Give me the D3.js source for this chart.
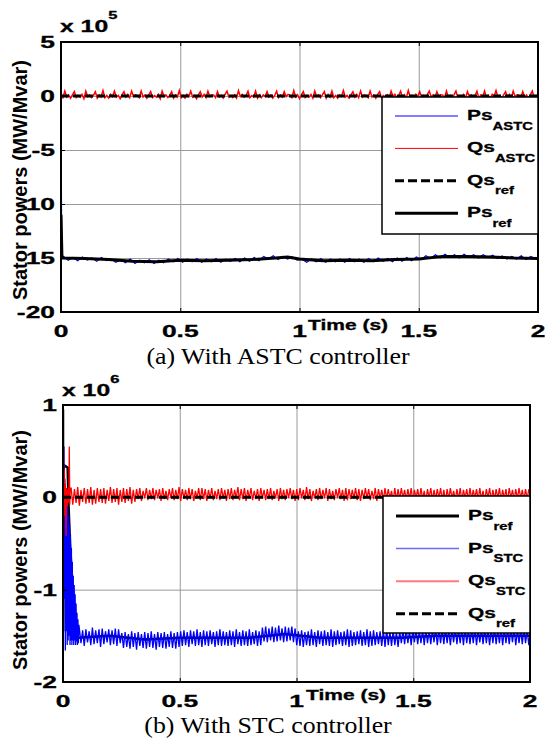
<!DOCTYPE html>
<html>
<head>
<meta charset="utf-8">
<script src="https://cdn.jsdelivr.net/npm/d3@7"></script>
<style>
  body { margin: 0; background: #fff; }
  svg { display: block; }
</style>
</head>
<body>
<svg id="fig" width="545" height="738"></svg>
<script>
// ---------- shared axis data ----------
const xTicks = [0, 0.5, 1, 1.5, 2];
const xTickLabels = ["0", "0.5", "1", "1.5", "2"];

// ---------- panel (a): ASTC controller, values in units of 1e5 ----------
const aYTicks = [5, 0, -5, -10, -15, -20];
const aYTickLabels = ["5", "0", "-5", "-10", "-15", "-20"];

// Qs_ASTC sampled every 0.008 s from t = 0
const aQsAstcStep = 0.008;
const aQsAstc = [
  0.05,-0.15,0.45,-0.1,0.1,-0.2,0.1,0.4,-0.15,0.05,
  -0.1,0.15,-0.25,0.45,-0.05,0.1,-0.15,0.05,0.4,-0.2,
  0.1,-0.1,0.5,-0.15,0.05,-0.2,0.15,-0.05,0.45,-0.1,
  0.05,-0.25,0.1,0.4,-0.1,0.15,-0.15,0.45,-0.05,0.1,
  0.05,-0.15,0.45,-0.1,0.1,-0.2,0.1,0.4,-0.15,0.05,
  -0.1,0.15,-0.25,0.45,-0.05,0.1,-0.15,0.05,0.4,-0.2,
  0.1,-0.1,0.5,-0.15,0.05,-0.2,0.15,-0.05,0.45,-0.1,
  0.05,-0.25,0.1,0.4,-0.1,0.15,-0.15,0.45,-0.05,0.1,
  0.1,-0.15,0.4,-0.1,0.05,-0.2,0.15,0.45,-0.1,0.05,
  -0.15,0.1,-0.2,0.5,-0.05,0.15,-0.1,0.05,0.45,-0.15,
  0.05,-0.1,0.45,-0.2,0.1,-0.15,0.1,-0.05,0.4,-0.1,
  0.1,-0.2,0.05,0.45,-0.15,0.1,-0.1,0.4,-0.05,0.15,
  0.05,-0.15,0.5,-0.1,0.1,-0.25,0.1,0.4,-0.15,0.05,
  -0.1,0.15,-0.2,0.45,-0.05,0.1,-0.15,0.1,0.4,-0.2,
  0.15,-0.1,0.45,-0.15,0.05,-0.2,0.1,-0.05,0.5,-0.1,
  0.05,-0.2,0.1,0.4,-0.1,0.15,-0.15,0.45,-0.1,0.1,
  0.05,-0.15,0.45,-0.1,0.1,-0.2,0.15,0.4,-0.15,0.05,
  -0.1,0.1,-0.25,0.45,-0.05,0.15,-0.15,0.05,0.45,-0.2,
  0.1,-0.15,0.5,-0.1,0.05,-0.2,0.15,-0.05,0.4,-0.1,
  0.05,-0.25,0.15,0.45,-0.1,0.1,-0.15,0.4,-0.05,0.1,
  0.1,-0.15,0.45,-0.1,0.05,-0.2,0.1,0.45,-0.15,0.05,
  -0.1,0.15,-0.2,0.4,-0.05,0.1,-0.15,0.05,0.45,-0.2,
  0.1,-0.1,0.45,-0.15,0.05,-0.2,0.15,-0.05,0.5,-0.1,
  0.05,-0.2,0.1,0.4,-0.1,0.15,-0.15,0.45,-0.05,0.1,
  0.05,-0.15,0.4,-0.1,0.1,-0.2,0.1,0.45,-0.15,0.05,
  0.1
];

// Ps_ASTC: start-up samples, then every 0.02 s from t = 0.01
const aPsAstcHead = [[0, 0.4], [0.003, -15.0]];
const aPsAstcStart = 0.01;
const aPsAstcStep = 0.02;
const aPsAstc = [
  -14.85,-15.2,-14.95,-15.25,-14.9,-15.2,-15.0,-15.3,-14.95,-15.25,
  -15.1,-15.4,-15.15,-15.45,-15.1,-15.5,-15.2,-15.45,-15.15,-15.5,
  -15.2,-15.45,-15.1,-15.35,-15.05,-15.4,-15.1,-15.35,-15.05,-15.4,
  -15.1,-15.35,-15.05,-15.4,-15.1,-15.3,-15.05,-15.35,-15.0,-15.3,
  -14.95,-15.25,-14.85,-15.1,-14.8,-15.15,-14.85,-15.1,-14.9,-15.2,
  -15.1,-15.4,-15.1,-15.35,-15.05,-15.4,-15.1,-15.35,-15.1,-15.4,
  -15.05,-15.35,-15.1,-15.4,-15.05,-15.35,-15.0,-15.3,-15.05,-15.35,
  -15.0,-15.3,-14.95,-15.25,-14.9,-15.15,-14.8,-15.05,-14.7,-15.0,
  -14.65,-14.95,-14.7,-15.0,-14.65,-14.95,-14.7,-15.0,-14.7,-14.95,
  -14.75,-15.05,-14.8,-15.1,-14.85,-15.1,-14.8,-15.15,-14.85,-15.1
];

// Ps_ref as [time, value] pairs
const aPsRef = [
  [0, -11], [0.004, -15.0], [0.1, -15.05], [0.2, -15.15], [0.3, -15.3],
  [0.4, -15.35], [0.5, -15.2], [0.6, -15.25], [0.7, -15.2], [0.8, -15.15],
  [0.9, -15.0], [0.95, -14.9], [1.0, -15.1], [1.1, -15.25], [1.2, -15.2],
  [1.3, -15.25], [1.4, -15.15], [1.5, -15.1], [1.6, -14.85], [1.7, -14.85],
  [1.8, -14.9], [1.9, -15.0], [2.0, -15.05]
];
const aQsRef = [[0, 0], [2, 0]];

// ---------- panel (b): STC controller, values in units of 1e6 ----------
const bYTicks = [1, 0, -1, -2];
const bYTickLabels = ["1", "0", "-1", "-2"];

// Ps_STC start-up transient every 0.002 s from t = 0
const bPsStcHeadStep = 0.002;
const bPsStcHead = [
  0.88,-0.5,0.55,-1.1,0.2,-1.66,0.1,-1.45,0.0,-1.6,
  -0.1,-1.55,-0.2,-1.5,-0.3,-1.6,-0.4,-1.55,-0.55,-1.6,
  -0.7,-1.55,-0.85,-1.6,-0.95,-1.55,-1.05,-1.6,-1.15,-1.56,
  -1.25,-1.6,-1.32,-1.58,-1.38
];
// Ps_STC steady part every 0.007 s from t = 0.07
const bPsStcStart = 0.07;
const bPsStcStep = 0.007;
const bPsStc = [
  -1.42,-1.58,-1.44,-1.61,-1.43,-1.57,-1.45,-1.60,-1.41,-1.59,
  -1.44,-1.58,-1.43,-1.62,-1.42,-1.59,-1.45,-1.57,-1.43,-1.60,
  -1.44,-1.59,-1.42,-1.61,-1.43,-1.58,-1.47,-1.63,-1.46,-1.62,
  -1.48,-1.64,-1.45,-1.62,-1.47,-1.65,-1.46,-1.61,-1.48,-1.63,
  -1.46,-1.64,-1.47,-1.62,-1.45,-1.63,-1.48,-1.65,-1.46,-1.62,
  -1.47,-1.63,-1.46,-1.64,-1.48,-1.62,-1.45,-1.63,-1.47,-1.64,
  -1.46,-1.62,-1.45,-1.61,-1.44,-1.60,-1.46,-1.62,-1.44,-1.59,
  -1.45,-1.61,-1.43,-1.60,-1.46,-1.62,-1.44,-1.60,-1.45,-1.61,
  -1.44,-1.59,-1.46,-1.62,-1.45,-1.60,-1.43,-1.61,-1.45,-1.60,
  -1.46,-1.61,-1.44,-1.60,-1.45,-1.62,-1.43,-1.59,-1.46,-1.61,
  -1.44,-1.60,-1.45,-1.61,-1.43,-1.60,-1.46,-1.59,-1.44,-1.61,
  -1.45,-1.60,-1.41,-1.56,-1.40,-1.57,-1.42,-1.55,-1.40,-1.57,
  -1.41,-1.56,-1.39,-1.55,-1.42,-1.57,-1.40,-1.56,-1.41,-1.55,
  -1.40,-1.57,-1.42,-1.60,-1.45,-1.61,-1.44,-1.62,-1.46,-1.60,
  -1.45,-1.61,-1.43,-1.60,-1.46,-1.62,-1.44,-1.59,-1.45,-1.61,
  -1.44,-1.60,-1.46,-1.61,-1.43,-1.62,-1.45,-1.60,-1.44,-1.59,
  -1.46,-1.61,-1.45,-1.60,-1.43,-1.62,-1.44,-1.61,-1.46,-1.60,
  -1.45,-1.59,-1.44,-1.61,-1.46,-1.60,-1.43,-1.62,-1.45,-1.61,
  -1.44,-1.60,-1.46,-1.59,-1.45,-1.61,-1.44,-1.62,-1.43,-1.60,
  -1.45,-1.61,-1.44,-1.60,-1.46,-1.62,-1.45,-1.58,-1.43,-1.59,
  -1.42,-1.58,-1.44,-1.60,-1.43,-1.57,-1.42,-1.59,-1.44,-1.58,
  -1.43,-1.60,-1.42,-1.58,-1.44,-1.59,-1.43,-1.57,-1.42,-1.60,
  -1.44,-1.58,-1.43,-1.59,-1.42,-1.58,-1.44,-1.60,-1.43,-1.57,
  -1.42,-1.59,-1.44,-1.58,-1.43,-1.60,-1.42,-1.58,-1.44,-1.59,
  -1.43,-1.58,-1.42,-1.60,-1.44,-1.57,-1.43,-1.59,-1.42,-1.58,
  -1.44,-1.60,-1.43,-1.58,-1.42,-1.59,-1.44,-1.58,-1.43,-1.60,
  -1.42,-1.58,-1.44,-1.59,-1.43,-1.57,-1.42,-1.60,-1.44,-1.58,
  -1.43,-1.59,-1.42,-1.58,-1.44,-1.60,-1.43
];

// Qs_STC start-up as [time, value] pairs, then every 0.007 s from t = 0.035
const bQsStcHead = [
  [0, 0], [0.002, 0.55], [0.004, -0.05], [0.006, 0.3], [0.008, -0.2],
  [0.010, 0.15], [0.013, -0.42], [0.015, 0.1], [0.017, -0.1], [0.019, 0.08],
  [0.021, -0.06], [0.023, 0.1], [0.025, -0.05], [0.027, 0.55], [0.029, -0.08],
  [0.031, 0.1]
];
const bQsStcStart = 0.035;
const bQsStcStep = 0.007;
const bQsStc = [
  0.10,-0.08,0.09,-0.06,0.11,-0.09,0.08,-0.05,0.10,-0.07,
  0.09,-0.06,0.11,-0.08,0.08,-0.07,0.10,-0.05,0.09,-0.06,
  0.10,-0.07,0.08,-0.04,0.11,-0.06,0.09,-0.05,0.10,-0.08,
  0.08,-0.05,0.10,-0.06,0.09,-0.04,0.11,-0.07,0.08,-0.05,
  0.09,-0.02,0.10,-0.04,0.07,-0.01,0.10,-0.03,0.08,-0.02,
  0.10,-0.03,0.08,-0.01,0.09,-0.04,0.10,-0.02,0.07,-0.03,
  0.09,-0.01,0.10,-0.03,0.08,-0.02,0.11,-0.04,0.09,-0.01,
  0.08,-0.03,0.10,-0.02,0.09,-0.04,0.07,-0.01,0.10,-0.03,
  0.10,-0.02,0.09,-0.04,0.08,-0.01,0.10,-0.03,0.07,-0.02,
  0.09,-0.03,0.10,-0.01,0.08,-0.04,0.09,-0.02,0.10,-0.03,
  0.08,-0.01,0.11,-0.03,0.09,-0.02,0.10,-0.04,0.08,-0.01,
  0.10,-0.03,0.07,-0.02,0.09,-0.04,0.10,-0.01,0.08,-0.03,
  0.09,-0.02,0.10,-0.03,0.07,-0.01,0.09,-0.04,0.10,-0.02,
  0.08,-0.03,0.09,-0.01,0.10,-0.02,0.08,-0.04,0.09,-0.03,
  0.10,-0.01,0.08,-0.03,0.11,-0.02,0.09,-0.04,0.07,-0.01,
  0.09,-0.03,0.10,-0.02,0.08,-0.01,0.10,-0.04,0.09,-0.02,
  0.07,-0.03,0.09,-0.01,0.10,-0.02,0.08,-0.04,0.10,-0.03,
  0.09,-0.02,0.08,-0.01,0.10,-0.03,0.09,-0.04,0.08,-0.02,
  0.10,-0.01,0.09,-0.03,0.07,-0.02,0.10,-0.04,0.09,-0.01,
  0.08,-0.03,0.10,-0.02,0.09,-0.01,0.07,-0.04,0.10,-0.03,
  0.09,-0.02,0.10,-0.01,0.08,-0.03,0.09,-0.02,0.10,-0.04,
  0.08,-0.01,0.09,-0.03,0.10,-0.02,0.07,-0.04,0.09,-0.01,
  0.10,-0.03,0.08,-0.02,0.09,-0.01,0.10,-0.03,0.08,-0.04,
  0.09,-0.02,0.10,-0.01,0.07,-0.03,0.09,-0.02,0.10,-0.04,
  0.08,-0.01,0.09,-0.03,0.10,-0.02,0.08,-0.01,0.09,-0.03,
  0.10,-0.02,0.07,-0.04,0.09,-0.01,0.10,-0.03,0.08,-0.02,
  0.09,-0.01,0.10,-0.03,0.08,-0.02,0.09,-0.04,0.10,-0.01,
  0.08,-0.03,0.09,-0.02,0.10,-0.01,0.08,-0.03,0.09,-0.02,
  0.09
];

// Ps_ref as [time, value] pairs
const bPsRef = [
  [0, 0.95], [0.001, -1.45], [0.003, 0.35], [0.02, 0.32], [0.024, -0.1],
  [0.03, -0.5], [0.037, -0.8], [0.043, -1.1], [0.05, -1.35], [0.056, -1.48],
  [0.065, -1.52], [0.2, -1.5], [0.35, -1.54], [0.5, -1.52], [0.8, -1.52],
  [0.95, -1.48], [1.1, -1.52], [1.45, -1.52], [1.6, -1.5], [2.0, -1.5]
];
const bQsRef = [[0, 0], [2, 0]];

// ---------- helpers ----------
const uniform = (start, step, vals) => vals.map((v, i) => [start + i * step, v]);

const svg = d3.select("#fig");
const BOLD = "Arial, 'Liberation Sans', sans-serif";
const SERIF = "'Times New Roman', 'Liberation Serif', serif";
const WIDE = 1.6;   // horizontal stretch of the bold axis lettering

function wideText(g, x, y, str, size, anchor, sx) {
  return g.append("text")
    .attr("transform", `translate(${x},${y}) scale(${sx},1)`)
    .attr("font-family", BOLD).attr("font-weight", "bold")
    .attr("font-size", size).attr("text-anchor", anchor || "start")
    .attr("stroke", "#000").attr("stroke-width", 0.3)
    .text(str);
}

function drawPanel(p, idx) {
  const g = svg.append("g");
  const x = d3.scaleLinear().domain([0, 2]).range([p.X0, p.X1]);
  const y = d3.scaleLinear().domain(p.yDomain).range([p.Y1, p.Y0]);

  // grid
  g.append("g").attr("transform", `translate(0,${p.Y1})`)
    .call(d3.axisBottom(x).tickValues(xTicks).tickSize(-(p.Y1 - p.Y0)).tickFormat(""))
    .call(s => s.select(".domain").remove())
    .call(s => s.selectAll("line").attr("stroke", "#9a9a9a").attr("stroke-width", 1));
  g.append("g").attr("transform", `translate(${p.X0},0)`)
    .call(d3.axisLeft(y).tickValues(p.yTicks).tickSize(-(p.X1 - p.X0)).tickFormat(""))
    .call(s => s.select(".domain").remove())
    .call(s => s.selectAll("line").attr("stroke", "#9a9a9a").attr("stroke-width", 1));

  // data
  const clipId = "clip" + idx;
  g.append("clipPath").attr("id", clipId).append("rect")
    .attr("x", p.X0).attr("y", p.Y0).attr("width", p.X1 - p.X0).attr("height", p.Y1 - p.Y0);
  const line = d3.line().x(d => x(d[0])).y(d => y(d[1]));
  const dg = g.append("g").attr("clip-path", `url(#${clipId})`);
  p.series.forEach(s => {
    dg.append("path").attr("d", line(s.data)).attr("fill", "none")
      .attr("stroke", s.color).attr("stroke-width", s.width)
      .attr("stroke-dasharray", s.dash || null)
      .attr("stroke-linejoin", "miter");
  });

  // inward tick marks on all four sides
  const tickStyle = s => { s.select(".domain").remove(); s.selectAll("line").attr("stroke", "#000"); };
  g.append("g").attr("transform", `translate(0,${p.Y1})`)
    .call(d3.axisBottom(x).tickValues(xTicks).tickSize(-4).tickFormat("")).call(tickStyle);
  g.append("g").attr("transform", `translate(0,${p.Y0})`)
    .call(d3.axisTop(x).tickValues(xTicks).tickSize(-4).tickFormat("")).call(tickStyle);
  g.append("g").attr("transform", `translate(${p.X0},0)`)
    .call(d3.axisLeft(y).tickValues(p.yTicks).tickSize(-4).tickFormat("")).call(tickStyle);
  g.append("g").attr("transform", `translate(${p.X1},0)`)
    .call(d3.axisRight(y).tickValues(p.yTicks).tickSize(-4).tickFormat("")).call(tickStyle);

  // box
  g.append("rect").attr("x", p.X0).attr("y", p.Y0)
    .attr("width", p.X1 - p.X0).attr("height", p.Y1 - p.Y0)
    .attr("fill", "none").attr("stroke", "#000").attr("stroke-width", 2);

  // tick labels
  p.yTicks.forEach((v, i) => wideText(g, p.X0 - 6, y(v) + 6, p.yTickLabels[i], 16.5, "end", WIDE));
  xTicks.forEach((v, i) => wideText(g, x(v), p.xLabelY, xTickLabels[i], 16.5, "middle", WIDE));

  // axis titles
  wideText(g, p.timeX, p.timeY, "Time (s)", 14, "start", 1.5);
  g.append("text")
    .attr("transform", `translate(27,${p.yLabelMid}) rotate(-90)`)
    .attr("font-family", BOLD).attr("font-weight", "bold").attr("font-size", 20)
    .attr("text-anchor", "middle").text("Stator powers (MW/Mvar)");

  // exponent
  const ex = wideText(g, p.X0 - 1, p.expY, "x 10", 16.5, "start", 1.5);
  ex.append("tspan").attr("font-size", 11).attr("dy", -13).attr("dx", 0).text(p.exponent);

  // legend
  const L = p.legend;
  g.append("rect").attr("x", L.x0).attr("y", L.y0)
    .attr("width", p.X1 - L.x0).attr("height", L.y1 - L.y0)
    .attr("fill", "#fff").attr("stroke", "#000").attr("stroke-width", 1.5);
  L.items.forEach((it, i) => {
    const ly = L.firstY + i * L.gap;
    g.append("line").attr("x1", L.x0 + 13).attr("x2", L.x0 + 76)
      .attr("y1", ly).attr("y2", ly)
      .attr("stroke", it.color).attr("stroke-width", it.width)
      .attr("stroke-dasharray", it.dash || null);
    const t = wideText(g, L.x0 + 85, ly + 4, "", 15.5, "start", 1.35);
    t.append("tspan").text(it.main);
    t.append("tspan").attr("font-size", 11).attr("dy", 9.5).text(it.sub);
  });

  // caption
  g.append("text")
    .attr("transform", `translate(${p.capX},${p.capY}) scale(1.1,1)`)
    .attr("font-family", SERIF).attr("font-size", 23.5).attr("text-anchor", "middle")
    .text(p.caption);
}

// ---------- panel (a) ----------
drawPanel({
  X0: 61, X1: 538, Y0: 42, Y1: 312,
  yDomain: [-20, 5], yTicks: aYTicks, yTickLabels: aYTickLabels,
  xLabelY: 337, timeX: 308, timeY: 330, expY: 32, exponent: "5", yLabelMid: 180,
  caption: "(a) With ASTC controller", capX: 278, capY: 364,
  series: [
    { data: aPsAstcHead.concat(uniform(aPsAstcStart, aPsAstcStep, aPsAstc)), color: "#0000ff", width: 1.2 },
    { data: uniform(0, aQsAstcStep, aQsAstc), color: "#ff0000", width: 1.5 },
    { data: aQsRef, color: "#000", width: 3, dash: "8,4" },
    { data: aPsRef, color: "#000", width: 3 }
  ],
  legend: {
    x0: 382, y0: 97, y1: 234, firstY: 116, gap: 32.4,
    items: [
      { main: "Ps", sub: "ASTC", color: "#0000ff", width: 1 },
      { main: "Qs", sub: "ASTC", color: "#ff0000", width: 1 },
      { main: "Qs", sub: "ref", color: "#000", width: 3, dash: "9,4" },
      { main: "Ps", sub: "ref", color: "#000", width: 3 }
    ]
  }
}, 0);

// ---------- panel (b) ----------
drawPanel({
  X0: 63, X1: 530, Y0: 405, Y1: 682,
  yDomain: [-2, 1], yTicks: bYTicks, yTickLabels: bYTickLabels,
  xLabelY: 707, timeX: 306, timeY: 700, expY: 396, exponent: "6", yLabelMid: 550,
  caption: "(b) With STC controller", capX: 268, capY: 733,
  series: [
    { data: bPsRef, color: "#000", width: 2.5 },
    { data: uniform(0, bPsStcHeadStep, bPsStcHead).concat(uniform(bPsStcStart, bPsStcStep, bPsStc)), color: "#0000ff", width: 1.3 },
    { data: bQsStcHead.concat(uniform(bQsStcStart, bQsStcStep, bQsStc)), color: "#ff0000", width: 1.3 },
    { data: bQsRef, color: "#000", width: 3, dash: "8,4" }
  ],
  legend: {
    x0: 383, y0: 496, y1: 633, firstY: 516, gap: 32.6,
    items: [
      { main: "Ps", sub: "ref", color: "#000", width: 3 },
      { main: "Ps", sub: "STC", color: "#6a6aff", width: 1.5 },
      { main: "Qs", sub: "STC", color: "#ff7a7a", width: 2 },
      { main: "Qs", sub: "ref", color: "#000", width: 3, dash: "9,4" }
    ]
  }
}, 1);
</script>
</body>
</html>
